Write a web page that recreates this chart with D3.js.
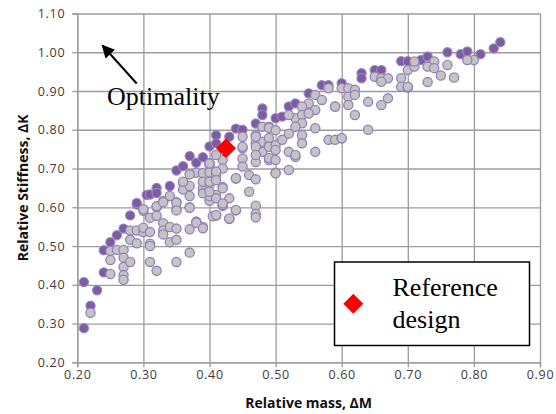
<!DOCTYPE html>
<html>
<head>
<meta charset="utf-8">
<script src="https://cdn.jsdelivr.net/npm/d3@7"></script>
<style>
  html, body { margin: 0; padding: 0; background: #fff; }
  svg { display: block; }
</style>
</head>
<body>
<svg id="chart" width="556" height="414"></svg>
<script>
// ---------- DATA ----------
const xTicks = [0.20, 0.30, 0.40, 0.50, 0.60, 0.70, 0.80, 0.90];
const yTicks = [0.20, 0.30, 0.40, 0.50, 0.60, 0.70, 0.80, 0.90, 1.00, 1.10];

// Pareto-front designs (dark purple): [relative mass, relative stiffness]
const frontMass = [0.21,0.21,0.22,0.23,0.24,0.24,0.25,0.26,0.27,0.28,0.29,0.29,0.305,0.31,0.32,0.32,0.34,0.35,0.36,0.37,0.38,0.39,0.40,0.41,0.41,0.43,0.44,0.45,0.47,0.48,0.48,0.50,0.51,0.52,0.53,0.55,0.57,0.58,0.60,0.63,0.63,0.65,0.66,0.69,0.70,0.72,0.73,0.76,0.78,0.79,0.81,0.83,0.84];
const frontStiff = [0.288,0.407,0.346,0.386,0.432,0.489,0.51,0.528,0.545,0.579,0.607,0.611,0.632,0.633,0.65,0.637,0.655,0.695,0.706,0.732,0.715,0.729,0.757,0.786,0.765,0.782,0.803,0.80,0.816,0.855,0.838,0.83,0.834,0.86,0.868,0.894,0.915,0.915,0.92,0.946,0.933,0.954,0.954,0.977,0.977,0.98,0.989,1.0,0.995,1.002,0.995,1.01,1.026];

// Other evaluated designs (grey)
const designMass = [
  0.22,0.25,0.25,0.25,0.26,0.27,0.27,0.27,0.27,0.27,0.28,0.29,0.28,0.29,0.28,0.30,0.30,0.30,
  0.31,0.31,0.31,0.31,0.31,0.32,0.32,0.32,0.33,0.33,0.33,0.34,0.34,0.35,0.35,0.35,0.35,0.35,0.37,0.37,0.37,0.38,0.39,0.40,0.32,0.33,0.34,0.35,0.35,0.30,0.33,
  0.36,0.36,0.37,0.37,0.37,0.38,0.37,0.39,0.40,0.40,0.40,0.39,0.40,0.39,0.40,0.39,0.36,0.38,0.39,
  0.41,0.42,0.43,0.44,0.47,0.47,0.47,0.405,0.42,0.40,0.41,0.42,0.42,0.41,0.42,0.41,0.41,0.42,0.44,0.46,0.47,0.46,0.40,0.41,0.43,0.42,0.44,0.41,0.43,
  0.47,0.47,0.48,0.49,0.48,0.49,0.48,0.49,0.47,0.45,0.45,0.45,0.41,0.40,0.47,0.47,0.47,0.44,0.49,0.45,0.45,0.49,0.49,0.49,0.50,0.50,0.50,0.50,0.50,
  0.56,0.58,0.60,0.57,0.59,0.55,0.56,0.54,0.53,0.54,0.55,0.52,0.56,0.54,0.53,0.54,0.52,0.51,0.54,0.52,0.53,0.56,0.58,0.59,0.60,0.52,0.50,0.53,
  0.65,0.66,0.67,0.66,0.69,0.70,0.71,0.69,0.70,0.61,0.62,0.61,0.62,0.61,0.59,0.62,0.64,0.66,0.67,0.64,0.60,
  0.80,0.79,0.74,0.71,0.73,0.74,0.76,0.75,0.77,0.73,0.70
];
const designStiff = [
  0.328,0.428,0.487,0.464,0.49,0.49,0.47,0.446,0.425,0.413,0.54,0.54,0.516,0.507,0.459,0.591,0.536,0.547,
  0.573,0.536,0.506,0.50,0.459,0.436,0.60,0.578,0.559,0.54,0.53,0.549,0.51,0.516,0.545,0.459,0.596,0.613,0.543,0.483,0.60,0.563,0.549,0.617,0.603,0.616,0.629,0.612,0.592,0.595,0.613,
  0.663,0.646,0.655,0.629,0.599,0.689,0.685,0.65,0.71,0.659,0.629,0.688,0.69,0.666,0.666,0.636,0.666,0.56,0.546,
  0.579,0.604,0.57,0.592,0.604,0.583,0.574,0.577,0.722,0.714,0.683,0.70,0.652,0.632,0.606,0.692,0.67,0.649,0.674,0.683,0.672,0.64,0.64,0.623,0.623,0.61,0.593,0.58,0.571,
  0.786,0.765,0.808,0.808,0.769,0.76,0.743,0.722,0.717,0.752,0.726,0.705,0.735,0.713,0.782,0.756,0.735,0.675,0.805,0.782,0.756,0.779,0.756,0.727,0.689,0.799,0.76,0.748,0.722,
  0.89,0.907,0.907,0.877,0.86,0.868,0.851,0.86,0.83,0.838,0.842,0.838,0.804,0.817,0.808,0.786,0.79,0.774,0.765,0.743,0.73,0.743,0.774,0.774,0.778,0.696,0.688,0.735,
  0.937,0.933,0.933,0.924,0.933,0.954,0.963,0.911,0.909,0.907,0.903,0.885,0.89,0.864,0.86,0.838,0.872,0.864,0.881,0.80,0.778,
  0.98,0.98,0.976,0.976,0.963,0.959,0.967,0.94,0.935,0.923,0.911
];

// Reference design
const referenceMass = [0.425];
const referenceStiff = [0.752];

const xTitle = "Relative mass, \u0394M";
const yTitle = "Relative Stiffness, \u0394K";
const legendLines = ["Reference", "design"];
const annotation = "Optimality";

// ---------- CHART ----------
const svg = d3.select("#chart");
const pL = 77.3, pR = 540, pT = 13.5, pB = 362.3;

const x = d3.scaleLinear().domain([0.2, 0.9]).range([pL, pR]);
const y = d3.scaleLinear().domain([0.2, 1.1]).range([pB, pT]);

const gridColor = "#9c9c9c";
const tickFont = "'Open Sans', 'DejaVu Sans', sans-serif";

// gridlines
svg.append("g")
  .attr("transform", `translate(0,${pB})`)
  .call(d3.axisBottom(x).tickValues(xTicks).tickSize(-(pB - pT)).tickFormat(""))
  .call(g => g.select(".domain").remove())
  .call(g => g.selectAll("line").attr("stroke", gridColor).attr("stroke-width", 1.3));
svg.append("g")
  .attr("transform", `translate(${pL},0)`)
  .call(d3.axisLeft(y).tickValues(yTicks).tickSize(-(pR - pL)).tickFormat(""))
  .call(g => g.select(".domain").remove())
  .call(g => g.selectAll("line").attr("stroke", gridColor).attr("stroke-width", 1.3));

// axes with labels
const xAxis = svg.append("g")
  .attr("transform", `translate(0,${pB})`)
  .call(d3.axisBottom(x).tickValues(xTicks).tickSize(5).tickPadding(3).tickFormat(d3.format(".2f")));
const yAxis = svg.append("g")
  .attr("transform", `translate(${pL},0)`)
  .call(d3.axisLeft(y).tickValues(yTicks).tickSize(5).tickPadding(7).tickFormat(d3.format(".2f")));
[xAxis, yAxis].forEach(g => {
  g.select(".domain").attr("stroke", gridColor).attr("stroke-width", 1.3);
  g.selectAll(".tick line").attr("stroke", gridColor).attr("stroke-width", 1.3);
  g.selectAll(".tick text")
    .attr("fill", "#3c3c3c")
    .style("font-family", tickFont)
    .style("font-size", "12.5px")
    .style("letter-spacing", "0.7px");
});

// axis titles
svg.append("text")
  .attr("x", (pL + pR) / 2).attr("y", 407.5)
  .attr("text-anchor", "middle")
  .style("font-family", tickFont).style("font-weight", "bold").style("font-size", "14px")
  .attr("fill", "#111")
  .text(xTitle);
svg.append("text")
  .attr("transform", `translate(28,${(pT + pB) / 2}) rotate(-90)`)
  .attr("text-anchor", "middle")
  .style("font-family", tickFont).style("font-weight", "bold").style("font-size", "14px")
  .attr("fill", "#111")
  .text(yTitle);

// points
const front = frontMass.map((m, i) => ({ m, k: frontStiff[i] }));
const designs = designMass.map((m, i) => ({ m, k: designStiff[i] }));

svg.append("g").selectAll("circle").data(front).join("circle")
  .attr("cx", d => x(d.m)).attr("cy", d => y(d.k)).attr("r", 4.6)
  .attr("fill", "#7c5da2").attr("stroke", "#9d88c0").attr("stroke-width", 1.2);
svg.append("g").selectAll("circle").data(designs).join("circle")
  .attr("cx", d => x(d.m)).attr("cy", d => y(d.k)).attr("r", 4.6)
  .attr("fill", "#c4c4c4").attr("stroke", "#9580ba").attr("stroke-width", 1.3);

// reference design diamond
const diamond = d3.symbol().type(d3.symbolSquare).size(200);
svg.append("g").selectAll("path").data(referenceMass.map((m, i) => ({ m, k: referenceStiff[i] }))).join("path")
  .attr("d", diamond)
  .attr("transform", d => `translate(${x(d.m)},${y(d.k)}) rotate(45)`)
  .attr("fill", "#ff0000");

// optimality arrow
svg.append("defs").append("marker")
  .attr("id", "arrowhead").attr("viewBox", "0 0 10 10")
  .attr("refX", 9).attr("refY", 5)
  .attr("markerWidth", 6.5).attr("markerHeight", 6.5)
  .attr("markerUnits", "strokeWidth")
  .attr("orient", "auto")
  .append("path").attr("d", "M0,0 L10,5 L0,10 Z").attr("fill", "#000");
svg.append("line")
  .attr("x1", 136.7).attr("y1", 83.5).attr("x2", 102.5).attr("y2", 45.5)
  .attr("stroke", "#000").attr("stroke-width", 2)
  .attr("marker-end", "url(#arrowhead)");
svg.append("text")
  .attr("x", 107).attr("y", 105)
  .style("font-family", "'Liberation Serif', 'Times New Roman', serif").style("font-size", "26px")
  .attr("fill", "#000")
  .text(annotation);

// legend
const lg = svg.append("g");
lg.append("rect")
  .attr("x", 334.5).attr("y", 262).attr("width", 195).attr("height", 83.5)
  .attr("fill", "#fff").attr("stroke", "#000").attr("stroke-width", 1.5);
lg.append("path")
  .attr("d", diamond)
  .attr("transform", "translate(353.3,303.7) rotate(45)")
  .attr("fill", "#ff0000");
lg.selectAll("text.leg").data(legendLines).join("text")
  .attr("class", "leg")
  .attr("x", 392.5).attr("y", (d, i) => 295.7 + i * 32)
  .style("font-family", "'Liberation Serif', 'Times New Roman', serif").style("font-size", "26px")
  .attr("fill", "#000")
  .text(d => d);
</script>
</body>
</html>
